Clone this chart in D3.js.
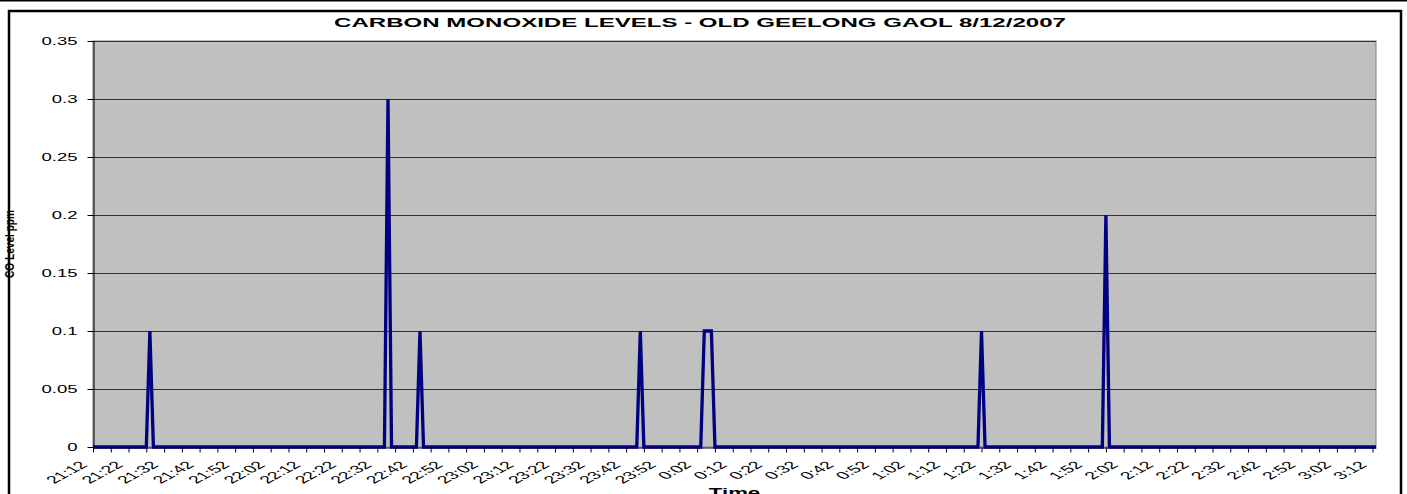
<!DOCTYPE html>
<html>
<head>
<meta charset="utf-8">
<script src="https://cdn.jsdelivr.net/npm/d3@7"></script>
<style>
	body { margin: 0; background: #fff; }
	svg { display: block; font-family: "Liberation Sans", Arial, sans-serif; }
</style>
</head>
<body>
<div class="co-graph"></div>
<script>
// readings (minutes after 21:12, ppm) - zero between spikes
let readMinutes = [0, 15, 16, 17, 82, 83, 84, 91, 92, 93, 153, 154, 155, 171, 172, 173, 174, 175, 249, 250, 251, 284, 285, 286, 361];
let readValues  = [0, 0, 0.1, 0, 0, 0.3, 0, 0, 0.1, 0, 0, 0.1, 0, 0, 0.1, 0.1, 0.1, 0, 0, 0.1, 0, 0, 0.2, 0, 0];

let xLabels = ["21:12","21:22","21:32","21:42","21:52","22:02","22:12","22:22","22:32","22:42","22:52",
	"23:02","23:12","23:22","23:32","23:42","23:52","0:02","0:12","0:22","0:32","0:42","0:52",
	"1:02","1:12","1:22","1:32","1:42","1:52","2:02","2:12","2:22","2:32","2:42","2:52","3:02","3:12"];
let yTicks = [0, 0.05, 0.1, 0.15, 0.2, 0.25, 0.3, 0.35];
let yLabels = ["0", "0.05", "0.1", "0.15", "0.2", "0.25", "0.3", "0.35"];

let width = 1407, height = 494;
let margin = { left: 93, right: 31, top: 41, bottom: 47 };
let stretch = 1.85;

let x = d3.scaleLinear()
	.domain([0, 361])
	.range([margin.left, width - margin.right]);

let y = d3.scaleLinear()
	.domain([0, 0.35])
	.range([height - margin.bottom, margin.top]);

let svg = d3.select(".co-graph").append("svg").attr("width", width).attr("height", height);

// frame
svg.append("line").attr("x1", 0).attr("x2", width).attr("y1", 0.5).attr("y2", 0.5)
	.attr("stroke", "#000").attr("stroke-width", 2);
svg.append("rect").attr("x", 9).attr("y", 11).attr("width", 1392).attr("height", 500)
	.attr("fill", "#fff").attr("stroke", "#000").attr("stroke-width", 2.5);

// plot area
svg.append("rect")
	.attr("x", x(0)).attr("y", y(0.35))
	.attr("width", x(361) - x(0)).attr("height", y(0) - y(0.35))
	.attr("fill", "#c0c0c0").attr("stroke", "#808080").attr("stroke-width", 1);

svg.append("g").selectAll("line").data(yTicks.slice(1)).join("line")
	.attr("x1", x(0)).attr("x2", x(361))
	.attr("y1", d => Math.round(y(d)) + 0.5).attr("y2", d => Math.round(y(d)) + 0.5)
	.attr("stroke", "#333");

// y axis
let yAxis = svg.append("g")
	.attr("transform", "translate(" + (margin.left + 0.5) + ",0)")
	.call(d3.axisLeft(y).tickValues(yTicks).tickFormat((d, i) => yLabels[i]).tickSize(6).tickSizeOuter(0));
yAxis.select(".domain").attr("stroke", "#000");
yAxis.selectAll(".tick line").attr("stroke", "#000");
yAxis.selectAll(".tick text")
	.attr("x", 0).attr("dy", "0.34em")
	.attr("transform", "translate(-16,0) scale(" + stretch + ",1)")
	.attr("font-size", 10).attr("fill", "#000");

// x axis: ticks every 5 minutes, labels every 10
let xTicks = d3.range(0, 361, 5);
let xAxis = svg.append("g")
	.attr("transform", "translate(0," + (y(0) + 0.5) + ")")
	.call(d3.axisBottom(x).tickValues(xTicks).tickFormat(d => d % 10 === 0 ? xLabels[d / 10] : "").tickSize(5).tickSizeOuter(0));
xAxis.select(".domain").attr("stroke", "#000");
xAxis.selectAll(".tick line").attr("stroke", "#000");
xAxis.selectAll(".tick text")
	.attr("y", 0).attr("dy", 0)
	.attr("text-anchor", "end")
	.attr("transform", "translate(-5,18) scale(" + stretch + ",1) rotate(-45)")
	.attr("font-size", 10.5).attr("fill", "#000");

// CO line
let line = d3.line()
	.x((d, i) => x(readMinutes[i]))
	.y(d => y(d));

svg.append("path")
	.attr("fill", "none")
	.attr("stroke", "#000080")
	.attr("stroke-width", 3.3)
	.attr("stroke-linejoin", "miter")
	.attr("d", line(readValues));

// titles
svg.append("text")
	.attr("transform", "translate(700,27) scale(" + stretch + ",1)")
	.attr("text-anchor", "middle")
	.attr("font-size", 13).attr("font-weight", "bold")
	.text("CARBON MONOXIDE LEVELS - OLD GEELONG GAOL 8/12/2007");

svg.append("text")
	.attr("transform", "translate(" + ((x(0) + x(361)) / 2) + ",497) scale(" + stretch + ",1)")
	.attr("text-anchor", "middle")
	.attr("font-size", 12).attr("font-weight", "bold")
	.text("Time");

svg.append("text")
	.attr("transform", "translate(13.5," + ((y(0) + y(0.35)) / 2) + ") scale(1.2,1) rotate(-90)")
	.attr("text-anchor", "middle")
	.attr("font-size", 11).attr("font-weight", "bold")
	.attr("textLength", 68).attr("lengthAdjust", "spacingAndGlyphs")
	.text("CO Level ppm");
</script>
</body>
</html>
